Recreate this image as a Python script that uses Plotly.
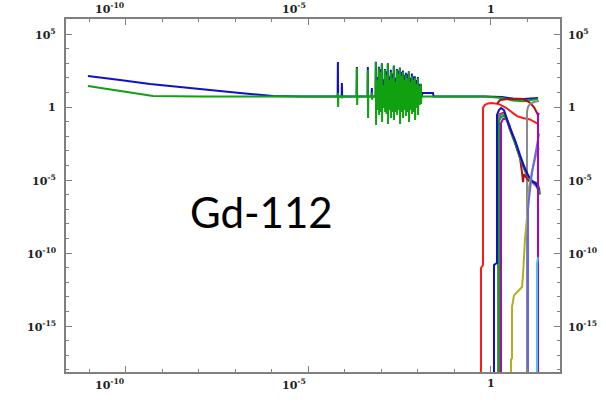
import plotly.graph_objects as go

# All values are log10(energy / MeV) and log10(cross section / b)

# Smooth low-energy parts of the two main curves
blue_low_le = [-11.04, -10.16, -9.34, -8.52, -7.70, -6.88, -5.97, -5.23, -4.27]
blue_low_ls = [2.12, 1.85, 1.58, 1.37, 1.16, 0.96, 0.75, 0.72, 0.72]
green_low_le = [-11.04, -9.97, -9.26, -7.97, -4.27]
green_low_ls = [1.44, 1.03, 0.75, 0.72, 0.72]
plateau_ls = 0.72

# Resolved resonances
res_le = [-4.19, -4.08, -3.67, -3.37, -3.26,
          -3.151, -3.110, -3.068, -3.027, -2.986, -2.945, -2.904, -2.863,
          -2.822, -2.781, -2.740, -2.699, -2.658, -2.616, -2.575, -2.534,
          -2.493, -2.452, -2.411, -2.370, -2.329, -2.288, -2.247, -2.205,
          -2.164, -2.123, -2.082, -2.041, -2.000, -1.959, -1.918]
green_peak = [0.96, 0.80, 2.67, 2.53, 1.00,
              3.08, 1.85, 2.67, 2.40, 2.95, 1.51, 2.53, 2.19,
              2.95, 1.85, 2.40, 1.99, 2.81, 1.71, 2.53, 2.26,
              2.67, 2.12, 2.40, 1.85, 2.19, 1.99, 2.40, 1.71,
              2.12, 1.85, 1.99, 1.58, 1.99, 1.44, 1.58]
green_dip = [0.00, 0.60, 0.14, -0.75, 0.50,
             -1.23, -0.21, -0.55, -0.34, -1.03, -0.07, -0.34, -0.48,
             -1.16, -0.21, -0.75, -0.34, -0.89, -0.34, -0.55, -0.21,
             -1.16, -0.34, -0.75, -0.21, -0.62, -0.34, -1.03, -0.21,
             -0.48, -0.34, -0.89, -0.07, -0.55, 0.14, 0.21]
blue_peak = [3.08, 1.64, 2.74, 2.74, 1.30,
             3.10, 2.05, 2.75, 2.60, 3.00, 1.90, 2.60, 2.45,
             3.00, 2.10, 2.55, 2.30, 2.85, 2.00, 2.60, 2.50,
             2.70, 2.40, 2.50, 2.20, 2.35, 2.25, 2.45, 2.00,
             2.30, 2.10, 2.10, 1.85, 2.05, 1.60, 1.60]

# High-energy parts of the two main curves
blue_high_le = [-1.90, -1.88, -1.59, -1.57, -0.16, 0.30, 0.60, 0.90, 1.29]
blue_high_ls = [0.72, 0.96, 0.96, 0.72, 0.72, 0.68, 0.58, 0.55, 0.62]
green_high_le = [-1.90, -0.16, 0.30, 0.60, 0.90, 1.10, 1.29]
green_high_ls = [0.72, 0.72, 0.62, 0.45, 0.40, 0.48, 0.55]

# Threshold reactions
thr_curves = {
    "red": ([-0.274, -0.274, -0.219, -0.219, -0.164, -0.082, 0.027, 0.219, 0.411, 0.712, 0.877, 1.068, 1.288],
            [-19.0, -11.03, -10.82, -0.05, 0.15, 0.25, 0.27, 0.20, -0.05, -0.62, -0.75, -0.85, -1.16]),
    "darkred": ([0.164, 0.247, 0.466, 0.877, 1.041, 1.178, 1.288],
                [0.21, 0.48, 0.55, 0.55, 0.34, 0.00, -0.55]),
    "gray2": ([0.986, 0.986, 1.014, 1.068, 1.178, 1.315],
              [-19.0, -0.30, 0.00, 0.20, 0.34, 0.41]),
    "darkred2": ([0.192, 0.192, 0.247, 0.329, 0.411, 0.521, 0.658, 0.795, 0.850, 0.877, 0.904, 0.986, 1.100],
                 [-19.0, -0.75, -0.48, -0.41, -0.68, -1.50, -2.40, -3.50, -4.50, -5.14, -4.60, -4.90, -5.20]),
    "gray": ([0.192, 0.192, 0.247, 0.329, 0.411, 0.521, 0.658, 0.795, 0.904, 1.014, 1.123, 1.233, 1.315],
             [-19.0, -0.82, -0.55, -0.48, -0.75, -1.58, -2.50, -3.50, -4.20, -4.80, -5.14, -5.41, -5.80]),
    "purple": ([0.274, 0.274, 0.329, 0.411, 0.493, 0.603, 0.740, 0.877, 0.986, 1.096, 1.205, 1.288],
               [-19.0, -1.10, -0.82, -0.82, -1.16, -2.00, -3.00, -4.00, -4.70, -5.07, -5.20, -5.40]),
    "green": ([0.219, 0.219, 0.274, 0.356, 0.438, 0.548, 0.685, 0.822, 0.932, 1.041, 1.150, 1.260, 1.315, 1.342],
              [-19.0, -0.96, -0.68, -0.62, -0.89, -1.70, -2.60, -3.60, -4.30, -4.90, -5.10, -5.20, -5.50, -6.00]),
    "blue": ([0.082, 0.082, 0.164, 0.164, 0.219, 0.274, 0.356, 0.411, 0.521, 0.658, 0.795, 0.904, 1.014, 1.123, 1.233, 1.315],
             [-19.0, -10.82, -10.68, -0.55, -0.21, -0.07, -0.21, -0.62, -1.44, -2.26, -3.29, -4.04, -4.66, -5.07, -5.27, -5.68]),
    "olive": ([0.548, 0.548, 0.575, 0.575, 0.630, 0.850, 0.877, 0.932, 0.986, 1.041, 1.123, 1.233, 1.315],
              [-19.0, -17.3, -17.2, -13.7, -12.9, -12.33, -11.5, -9.0, -7.6, -5.5, -4.4, -3.3, -2.8]),
    "lightblue": ([1.014, 1.014, 1.041, 1.123, 1.233, 1.315],
                  [-19.0, -7.0, -6.3, -4.5, -3.0, -1.8]),
    "purple2": ([1.288, 1.288, 1.315], [-19.0, -0.55, -0.41]),
    "cyan": ([1.26, 1.26, 1.288], [-19.0, -10.7, -10.3]),
}
thr_colors = {
    "red": "#ff1a1a", "darkred": "#b01010", "gray2": "#8a8a8a", "darkred2": "#b01010",
    "gray": "#7a7a7a", "purple": "#b000c0", "green": "#10a010", "blue": "#1010c8",
    "olive": "#b0b020", "lightblue": "#6464ff", "purple2": "#b000c0", "cyan": "#40c8f0",
}

x_tick_vals = [-10, -5, 0]
x_tick_text = ["10<sup>-10</sup>", "10<sup>-5</sup>", "1"]
y_tick_vals = [5, 0, -5, -10, -15]
y_tick_text = ["10<sup>5</sup>", "1", "10<sup>-5</sup>", "10<sup>-10</sup>", "10<sup>-15</sup>"]
x_range = [-11.64, 1.89]
y_range = [-18.15, 6.03]


def spikes(low_le, low_ls, peaks, dips, high_le, high_ls):
    xs, ys = list(low_le), list(low_ls)
    w = 0.01
    for e, p, d in zip(res_le, peaks, dips):
        xs += [e - w, e - w / 3, e + w / 3, e + w]
        ys += [plateau_ls, p, d, plateau_ls]
    xs += high_le
    ys += high_ls
    return [10 ** v for v in xs], [10 ** v for v in ys]


fig = go.Figure()

bx, by = spikes(blue_low_le, blue_low_ls, blue_peak, [plateau_ls] * len(res_le),
                blue_high_le, blue_high_ls)
gx, gy = spikes(green_low_le, green_low_ls, green_peak, green_dip,
                green_high_le, green_high_ls)
fig.add_trace(go.Scatter(x=bx, y=by, mode="lines",
                         line=dict(color="#1010c8", width=2, simplify=False)))
fig.add_trace(go.Scatter(x=gx, y=gy, mode="lines",
                         line=dict(color="#10a010", width=2, simplify=False)))

for name, (le, ls) in thr_curves.items():
    fig.add_trace(go.Scatter(x=[10 ** v for v in le], y=[10 ** v for v in ls], mode="lines",
                             line=dict(color=thr_colors[name], width=2, simplify=False)))

axis_common = dict(
    type="log", showgrid=False, zeroline=False,
    showline=True, linecolor="#808080", linewidth=2, mirror="allticks",
    ticks="inside", ticklen=6, tickwidth=1, tickcolor="#808080",
    tick0=0, dtick=5, showticklabels=False,
    minor=dict(ticks="inside", ticklen=3, tickcolor="#808080", tick0=0, dtick=1),
)
fig.update_xaxes(range=x_range, **axis_common)
fig.update_yaxes(range=y_range, **axis_common)

lab_font = dict(family="DejaVu Serif", size=11, color="#222222", weight="bold")
annotations = []
for v, t in zip(x_tick_vals, x_tick_text):
    anchor = "center" if t == "1" else "right"
    for yp, ya, ys in [(1, "bottom", 1), (0, "top", -3)]:
        annotations.append(dict(x=v, y=yp, xref="x", yref="paper", text=t, showarrow=False,
                                xanchor=anchor, yanchor=ya, yshift=ys, font=lab_font))
for v, t in zip(y_tick_vals, y_tick_text):
    annotations.append(dict(x=0, y=v, xref="paper", yref="y", text=t, showarrow=False,
                            xanchor="right", yanchor="middle", xshift=-8, font=lab_font))
    annotations.append(dict(x=1, y=v, xref="paper", yref="y", text=t, showarrow=False,
                            xanchor="left", yanchor="middle", xshift=6, font=lab_font))
annotations.append(dict(x=0.395, y=0.453, xref="paper", yref="paper", text="Gd-112",
                        showarrow=False, xanchor="center", yanchor="middle",
                        font=dict(family="Lato", size=42, color="#000000")))

fig.update_layout(
    width=606, height=404,
    margin=dict(l=66, r=46, t=19, b=32),
    paper_bgcolor="white", plot_bgcolor="white",
    showlegend=False, annotations=annotations,
)

fig.write_html("out.html")
